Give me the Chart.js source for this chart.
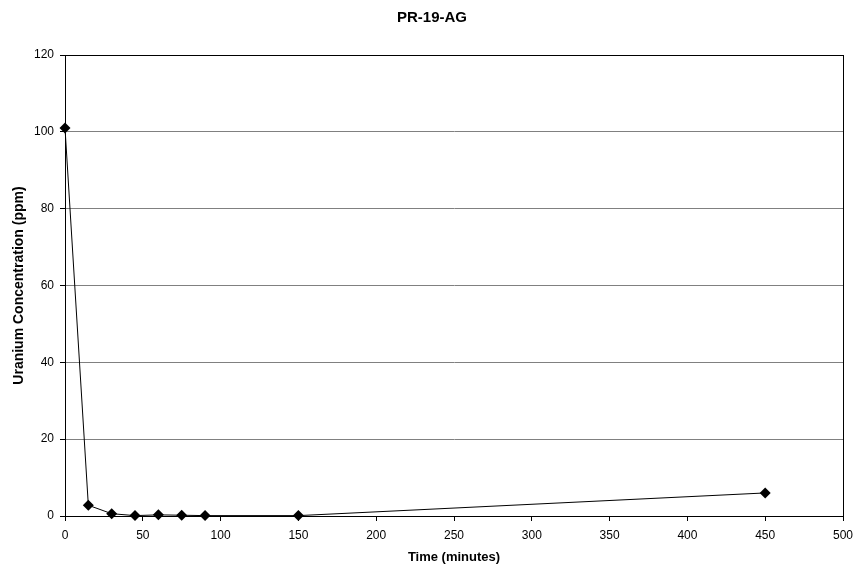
<!DOCTYPE html>
<html>
<head>
<meta charset="utf-8">
<script src="https://cdn.jsdelivr.net/npm/chart.js@4"></script>
<style>
html,body{margin:0;padding:0;background:#fff;}
#wrap{width:857px;height:569px;}
</style>
</head>
<body>
<div id="wrap"><canvas id="c" width="857" height="569"></canvas></div>
<script>
const times = [0, 15, 30, 45, 60, 75, 90, 150, 450];
const uranium = [101, 2.8, 0.6, 0.1, 0.3, 0.2, 0.1, 0.1, 6.0];
const xTicks = [0, 50, 100, 150, 200, 250, 300, 350, 400, 450, 500];
const yTicks = [0, 20, 40, 60, 80, 100, 120];

const FONT = "'Liberation Sans', Arial, sans-serif";

const borderPlugin = {
  id: 'plotBorder',
  afterDatasetsDraw(chart) {
    const {ctx, chartArea: a} = chart;
    ctx.save();
    ctx.strokeStyle = '#000';
    ctx.lineWidth = 1;
    ctx.strokeRect(Math.round(a.left) + 0.5, Math.round(a.top) + 0.5,
                   Math.round(a.right - a.left), Math.round(a.bottom - a.top));
    ctx.restore();
  }
};

new Chart(document.getElementById('c'), {
  type: 'line',
  data: {
    datasets: [{
      label: 'PR-19-AG',
      data: times.map((t, i) => ({x: t, y: uranium[i]})),
      borderColor: '#000',
      borderWidth: 1,
      backgroundColor: '#000',
      pointStyle: 'rectRot',
      pointRadius: 5.5,
      pointHoverRadius: 5.5,
      pointBorderWidth: 0,
      tension: 0,
      clip: false
    }]
  },
  options: {
    responsive: false,
    animation: false,
    events: [],
    layout: {padding: {left: 7, right: 0, top: 0, bottom: 0}},
    plugins: {
      legend: {display: false},
      tooltip: {enabled: false},
      title: {
        display: true,
        text: 'PR-19-AG',
        color: '#000',
        font: {family: FONT, size: 15, weight: 'bold'},
        padding: {top: 9, bottom: 28}
      }
    },
    scales: {
      x: {
        type: 'linear',
        position: 'bottom',
        min: 0, max: 500,
        afterBuildTicks(s) { s.ticks = xTicks.map(v => ({value: v})); },
        afterFit(s) { s.height = 53; s.paddingRight = 0; s.paddingLeft = 0; },
        grid: {drawOnChartArea: false, drawTicks: true, tickLength: 5, color: '#000', tickColor: '#000'},
        border: {display: true, color: '#000', width: 1},
        ticks: {color: '#000', font: {family: FONT, size: 12}, padding: 7, maxRotation: 0, autoSkip: false},
        title: {display: true, text: 'Time (minutes)', color: '#000',
                font: {family: FONT, size: 13, weight: 'bold'}, padding: {top: 0, bottom: 4}}
      },
      y: {
        type: 'linear',
        position: 'left',
        min: 0, max: 120,
        afterBuildTicks(s) { s.ticks = yTicks.map(v => ({value: v})); },
        afterFit(s) { s.width = 58; },
        grid: {drawOnChartArea: true, drawTicks: true, tickLength: 5, color: '#808080', tickColor: '#000', lineWidth: 1},
        border: {display: true, color: '#000', width: 1},
        ticks: {color: '#000', font: {family: FONT, size: 12}, padding: 6},
        title: {display: true, text: 'Uranium Concentration (ppm)', color: '#000',
                font: {family: FONT, size: 14, weight: 'bold'}, padding: {top: 4, bottom: 0}}
      },
      yRight: {
        type: 'linear',
        position: 'right',
        display: true,
        min: 0, max: 1,
        afterFit(s) { s.width = 14; },
        grid: {display: false, drawTicks: false},
        border: {display: false},
        ticks: {display: false}
      }
    }
  },
  plugins: [borderPlugin]
});
</script>
</body>
</html>
